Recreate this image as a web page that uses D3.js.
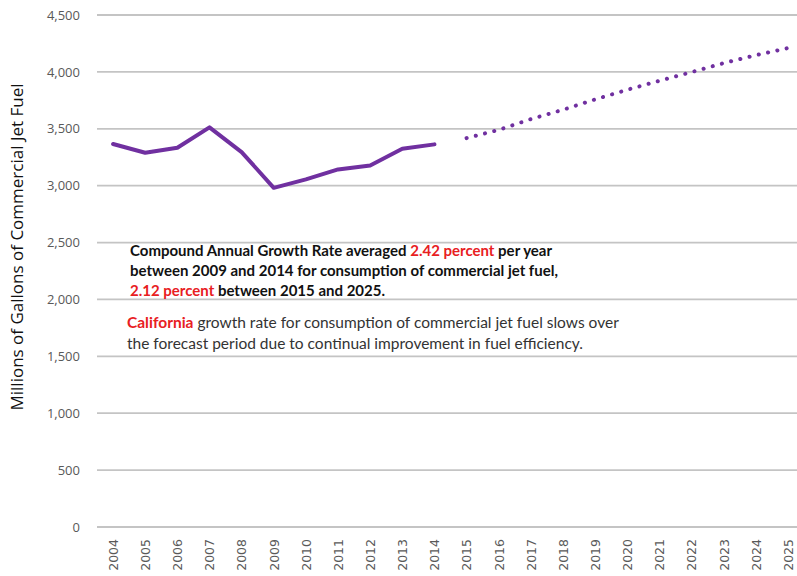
<!DOCTYPE html>
<html>
<head>
<meta charset="utf-8">
<script src="https://cdn.jsdelivr.net/npm/d3@7"></script>
<style>
  body { margin: 0; background: #fff; }
  svg { display: block; }
</style>
</head>
<body>
<script>
// chart data
let years = ["2004","2005","2006","2007","2008","2009","2010","2011","2012","2013","2014",
             "2015","2016","2017","2018","2019","2020","2021","2022","2023","2024","2025"];
let histYears = ["2004","2005","2006","2007","2008","2009","2010","2011","2012","2013","2014"];
let histValues = [3366, 3289, 3333, 3512, 3295, 2981, 3055, 3143, 3178, 3324, 3363];
let forecastYears = ["2015","2016","2017","2018","2019","2020","2021","2022","2023","2024","2025"];
let forecastValues = [3418, 3490, 3585, 3667, 3758, 3843, 3922, 3998, 4077, 4147, 4209];
let yTicks = [0, 500, 1000, 1500, 2000, 2500, 3000, 3500, 4000, 4500];

let width = 797;
let height = 576;

let purple = "#7030a0";
let red = "#e8201f";
let gridColor = "#c4c4c4";
let labelColor = "#595959";

let svg = d3.select("body")
            .append("svg")
            .attr("width", width)
            .attr("height", height);

let x = d3.scalePoint()
          .domain(years)
          .range([97, 804])
          .padding(0.5);

let y = d3.scaleLinear()
          .domain([0, 4500])
          .range([527, 15]);

// gridlines
svg.append("g")
   .selectAll("line")
   .data(yTicks)
   .join("line")
   .attr("x1", 97)
   .attr("x2", width)
   .attr("y1", d => y(d))
   .attr("y2", d => y(d))
   .attr("stroke", gridColor)
   .attr("stroke-width", 1.8);

// y axis labels
let yAxis = svg.append("g")
               .attr("transform", "translate(97,0)")
               .call(d3.axisLeft(y).tickValues(yTicks).tickFormat(d3.format(",")).tickSize(0).tickPadding(17));
yAxis.select(".domain").remove();
yAxis.selectAll("text")
     .attr("fill", labelColor)
     .style("font-family", "'Open Sans', sans-serif")
     .style("font-size", "13px");

// x axis labels, rotated
let xAxis = svg.append("g")
               .attr("transform", "translate(0,527)")
               .call(d3.axisBottom(x).tickSize(0).tickPadding(0));
xAxis.select(".domain").remove();
xAxis.selectAll("text")
     .attr("transform", "rotate(-90)")
     .attr("text-anchor", "end")
     .attr("x", -12)
     .attr("y", 0)
     .attr("dy", "0.35em")
     .attr("fill", labelColor)
     .style("font-family", "'DejaVu Sans', sans-serif")
     .style("font-size", "12.5px");

// y title
svg.append("text")
   .attr("transform", "translate(23,247) rotate(-90)")
   .attr("text-anchor", "middle")
   .attr("fill", "#111")
   .style("font-family", "'Open Sans', sans-serif")
   .style("font-size", "17px")
   .text("Millions of Gallons of Commercial Jet Fuel");

// historical line
let line = d3.line()
             .x(d => x(d[0]))
             .y(d => y(d[1]));

svg.append("path")
   .datum(d3.zip(histYears, histValues))
   .attr("d", line)
   .attr("fill", "none")
   .attr("stroke", purple)
   .attr("stroke-width", 4)
   .attr("stroke-linejoin", "round")
   .attr("stroke-linecap", "round");

// forecast dotted line
svg.append("path")
   .datum(d3.zip(forecastYears, forecastValues))
   .attr("d", line)
   .attr("fill", "none")
   .attr("stroke", purple)
   .attr("stroke-width", 4)
   .attr("stroke-linecap", "round")
   .attr("stroke-dasharray", "0.1 9.4");

// annotations
let note1 = svg.append("text")
               .style("font-family", "Lato, sans-serif")
               .style("font-size", "15px")
               .style("font-weight", "bold")
               .attr("fill", "#111");

let l1 = note1.append("tspan").attr("x", 130).attr("y", 256);
l1.append("tspan").text("Compound Annual Growth Rate averaged ");
l1.append("tspan").attr("fill", red).text("2.42 percent");
l1.append("tspan").text(" per year");
note1.append("tspan").attr("x", 130).attr("y", 276)
     .text("between 2009 and 2014 for consumption of commercial jet fuel,");
let l3 = note1.append("tspan").attr("x", 130).attr("y", 296);
l3.append("tspan").attr("fill", red).text("2.12 percent");
l3.append("tspan").text(" between 2015 and 2025.");

let note2 = svg.append("text")
               .style("font-family", "Lato, sans-serif")
               .style("font-size", "15.5px")
               .attr("fill", "#333");
let m1 = note2.append("tspan").attr("x", 127).attr("y", 328);
m1.append("tspan").attr("fill", red).style("font-weight", "bold").text("California");
m1.append("tspan").text(" growth rate for consumption of commercial jet fuel slows over");
note2.append("tspan").attr("x", 127).attr("y", 349)
     .text("the forecast period due to continual improvement in fuel efficiency.");
</script>
</body>
</html>
